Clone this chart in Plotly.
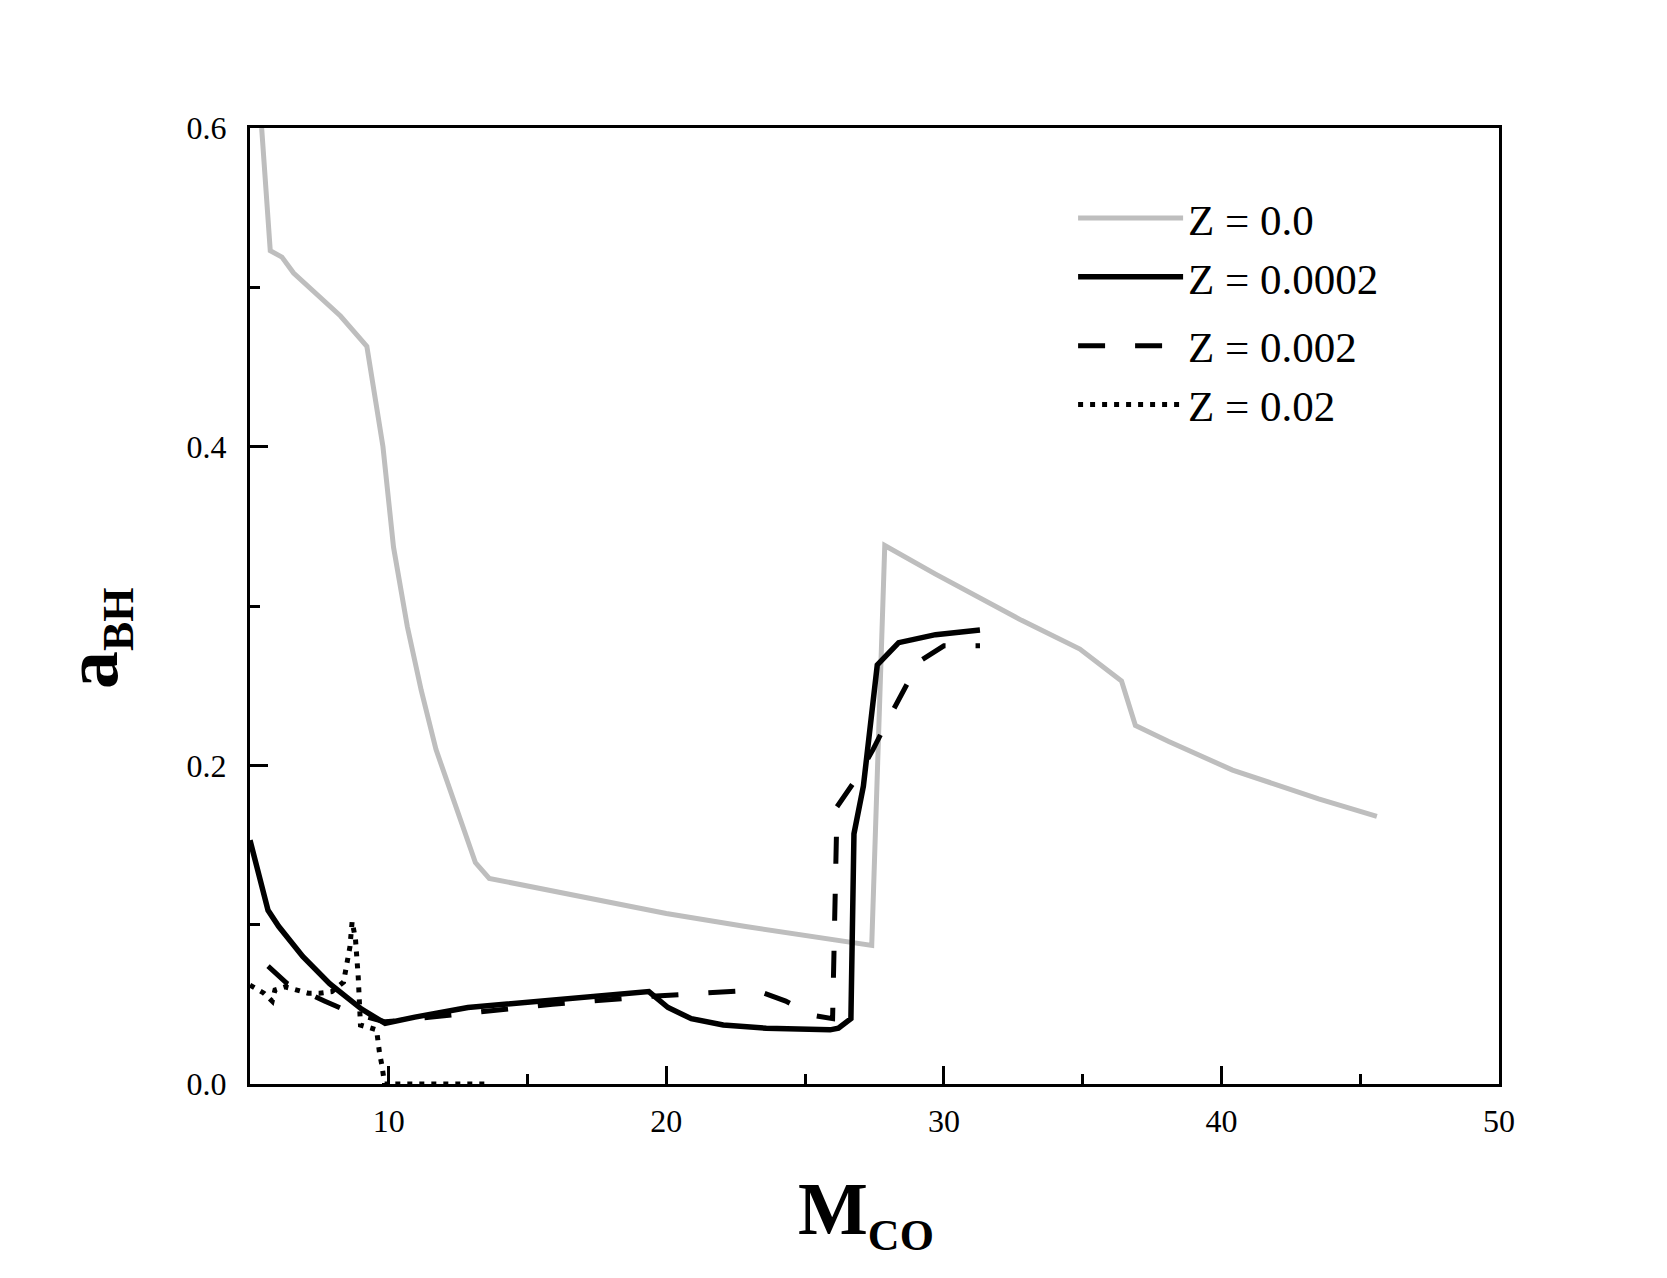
import plotly.graph_objects as go

# Z = 0.0
x_z0 = [5.42, 5.73, 6.15, 6.57, 8.26, 9.21, 9.79, 10.17, 10.67, 11.17, 11.7, 12.28, 12.74, 13.12, 13.62,
        15.9, 20.0, 22.8, 26.3, 27.4, 27.87, 29.7, 32.8, 34.9, 36.4, 36.9, 38.1, 40.4, 43.5, 45.6]
y_z0 = [0.600, 0.523, 0.519, 0.509, 0.482, 0.463, 0.400, 0.337, 0.287, 0.247, 0.210, 0.180, 0.157, 0.139, 0.129,
        0.121, 0.107, 0.099, 0.090, 0.087, 0.338, 0.320, 0.291, 0.273, 0.253, 0.225, 0.215, 0.197, 0.179, 0.168]

# Z = 0.0002
x_z1 = [5.0, 5.65, 6.03, 6.9, 7.87, 9.02, 9.87, 10.94, 12.85, 15.9, 19.37, 20.06, 20.9, 22.05, 23.6,
        25.9, 26.2, 26.65, 26.76, 27.1, 27.3, 27.6, 28.37, 29.7, 31.3]
y_z1 = [0.153, 0.109, 0.099, 0.080, 0.063, 0.047, 0.038, 0.042, 0.048, 0.053, 0.058, 0.048, 0.041, 0.037, 0.035,
        0.034, 0.035, 0.041, 0.157, 0.187, 0.215, 0.263, 0.277, 0.282, 0.285]

# Z = 0.002
x_z2 = [5.65, 6.34, 7.7, 8.6, 9.87, 12.1, 15.9, 19.4, 23.2, 24.3, 25.3, 25.99, 26.15, 26.9, 27.45,
        28.0, 28.5, 29.1, 30.0, 31.3]
y_z2 = [0.074, 0.063, 0.052, 0.045, 0.039, 0.043, 0.050, 0.055, 0.059, 0.052, 0.043, 0.041, 0.174, 0.193, 0.210,
        0.229, 0.245, 0.265, 0.275, 0.275]

# Z = 0.02
x_z3 = [5.0, 5.5, 5.8, 5.9, 6.26, 6.7, 7.1, 7.5, 7.95, 8.37, 8.5, 8.6, 8.68, 8.8, 8.9, 8.98,
        9.56, 9.6, 9.67, 9.75, 9.85, 10.3, 13.55]
y_z3 = [0.062, 0.057, 0.052, 0.059, 0.061, 0.059, 0.057, 0.057, 0.058, 0.064, 0.076, 0.086, 0.102, 0.091, 0.067, 0.037,
        0.034, 0.027, 0.019, 0.012, 0.0, 0.0, 0.0]

names = ["Z = 0.0", "Z = 0.0002", "Z = 0.002", "Z = 0.02"]

FONT = "Liberation Serif"

fig = go.Figure()
fig.add_trace(go.Scatter(x=x_z0, y=y_z0, mode="lines", name=names[0], legendgroup="g1",
                         line=dict(color="#bebebe", width=5)))
fig.add_trace(go.Scatter(x=x_z1, y=y_z1, mode="lines", name=names[1], legendgroup="g1",
                         line=dict(color="black", width=5.5)))
fig.add_trace(go.Scatter(x=x_z2, y=y_z2, mode="lines", name=names[2], legendgroup="g2",
                         line=dict(color="black", width=5, dash="27px,30px")))
fig.add_trace(go.Scatter(x=x_z3, y=y_z3, mode="lines", name=names[3], legendgroup="g2",
                         line=dict(color="black", width=5, dash="5px,7px")))

fig.update_layout(
    width=1667, height=1278,
    margin=dict(l=250, r=168, t=128, b=194),
    paper_bgcolor="white", plot_bgcolor="white",
    font=dict(family=FONT, color="black", size=32),
    showlegend=True,
    legend=dict(x=0.659, y=0.942, xanchor="left", yanchor="top",
                font=dict(family=FONT, size=43, color="black"),
                bgcolor="rgba(0,0,0,0)", tracegroupgap=10, itemwidth=105, groupclick="toggleitem"),
    xaxis=dict(range=[5, 50], tickvals=[10, 20, 30, 40, 50], ticks="inside", ticklen=18, tickwidth=3,
               tickcolor="black", showline=True, linecolor="black", linewidth=3, mirror=True,
               showgrid=False, zeroline=False, ticklabelstandoff=7,
               tickfont=dict(family=FONT, size=32),
               minor=dict(tickvals=[15, 25, 35, 45], ticks="inside", ticklen=10, tickwidth=3, tickcolor="black")),
    yaxis=dict(range=[0, 0.6], tickvals=[0.0, 0.2, 0.4, 0.6], tickformat=".1f", ticks="inside", ticklen=18,
               tickwidth=3, tickcolor="black", showline=True, linecolor="black", linewidth=3, mirror=True,
               showgrid=False, zeroline=False, ticklabelstandoff=14,
               tickfont=dict(family=FONT, size=32),
               minor=dict(tickvals=[0.1, 0.3, 0.5], ticks="inside", ticklen=10, tickwidth=3, tickcolor="black")),
    annotations=[
        dict(text='<b>M<sub><span style="font-size:44px">CO</span></sub></b>', xref="paper", yref="paper",
             x=(866 - 250) / 1249, y=(1084 - 1214) / 956, xanchor="center", yanchor="middle",
             showarrow=False, font=dict(family=FONT, size=74, color="black")),
        dict(text='<b>a<sub><span style="font-size:44px">BH</span></sub></b>', xref="paper", yref="paper",
             x=(96 - 250) / 1249, y=(1084 - 638) / 956, xanchor="center", yanchor="middle", textangle=-90,
             showarrow=False, font=dict(family=FONT, size=76, color="black")),
    ],
)

fig.write_html("out.html")
